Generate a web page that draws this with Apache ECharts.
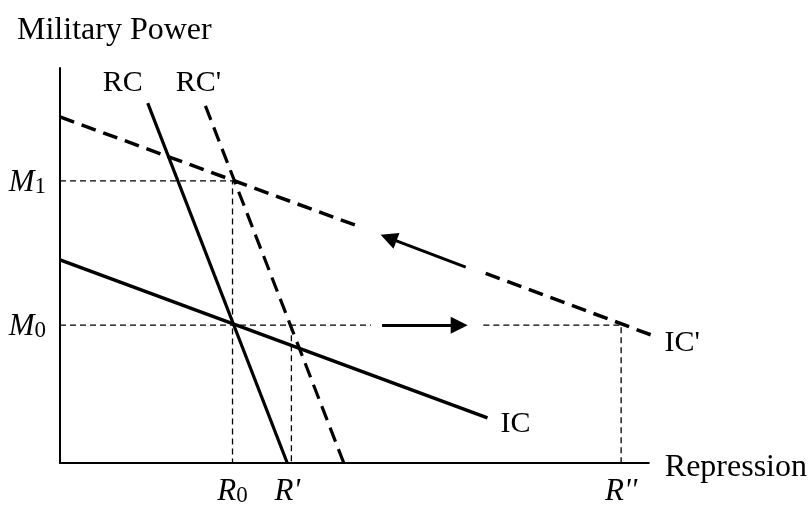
<!DOCTYPE html>
<html><head><meta charset="utf-8">
<script src="https://cdn.jsdelivr.net/npm/echarts@6/dist/echarts.min.js"></script>
<style>html,body{margin:0;padding:0;background:#fff}#c{width:810px;height:507px}</style>
</head><body><div id="c"></div>
<script>
// Values (x: repression 0-100, y: military power 0-100)
const R0 = 29.3, R1 = 39.3, R2 = 95.3;
const M0 = 34.9, M1 = 71.4;
const IC  = [[0, 51.4], [72.6, 11.4]];
const ICp = [[0, 87.6], [100.8, 32.2]];
const ICpGap = [[51.1, 59.7], [72.3, 48.0]];   // where the arrow interrupts IC'
const RC  = [[14.9, 91.1], [38.6, 0]];
const RCp = [[24.7, 90.4], [48.2, 0]];
const M0Gap = [52.8, 71.9];                    // where the arrow interrupts the M0 guide
const shiftArrow = [[54.7, M0], [67.8, M0]];
const moveArrow  = [[68.9, 49.6], [55.8, 57.0]];

const FONT = "'Liberation Serif','Times New Roman',serif";
const FS = 30;
const rich = {
  i: {fontFamily: FONT, fontSize: 31, fontStyle: 'italic', color: '#000', lineHeight: 30, verticalAlign: 'bottom'},
  s: {fontFamily: FONT, fontSize: 23, color: '#000', lineHeight: 20, verticalAlign: 'bottom'},
  n: {fontFamily: FONT, fontSize: FS, color: '#000', lineHeight: 30}
};
function tag(p, text, pos, dist, off) {
  return {value: p, symbolSize: 0, label: {show: true, color: '#000', position: pos, distance: dist, offset: off || [0, 0], formatter: text, rich: rich}};
}
function lineSeries(data, width, dash) {
  return {type: 'line', data: data, showSymbol: false, symbol: 'none', clip: false, silent: true, animation: false,
    lineStyle: {color: '#000', width: width, type: dash}};
}
const thin = [6, 4], thick = [15, 8];

const chart = echarts.init(document.getElementById('c'), null, {renderer: 'canvas'});
chart.setOption({
  backgroundColor: '#fff',
  animation: false,
  title: {text: 'Military Power', left: 17, top: 15, padding: 0,
    textStyle: {fontFamily: FONT, fontSize: 32, fontWeight: 'normal', color: '#000'}},
  grid: {left: 60, top: 68, width: 591, height: 395},
  xAxis: {type: 'value', min: 0, max: 100, name: '{a|Repression}', nameLocation: 'end', nameGap: 16,
    nameTextStyle: {verticalAlign: 'middle',
      rich: {a: {fontFamily: FONT, fontSize: 32, color: '#000', lineHeight: 32, padding: [10, 0, 0, 0]}}},
    axisLine: {lineStyle: {color: '#000', width: 2}}, axisTick: {show: false}, axisLabel: {show: false}, splitLine: {show: false}},
  yAxis: {type: 'value', min: 0, max: 100,
    axisLine: {show: true, lineStyle: {color: '#000', width: 2}}, axisTick: {show: false}, axisLabel: {show: false}, splitLine: {show: false}},
  series: [
    lineSeries([[0, M1], [R0, M1], [R0, 0]], 1.3, thin),
    lineSeries([[0, M0], [M0Gap[0], M0]], 1.3, thin),
    lineSeries([[M0Gap[1], M0], [R2, M0], [R2, 0]], 1.3, thin),
    lineSeries([[R1, M0], [R1, 0]], 1.3, thin),
    lineSeries(IC, 3.5, 'solid'),
    lineSeries([ICp[0], ICpGap[0]], 3.5, thick),
    lineSeries([ICpGap[1], ICp[1]], 3.5, thick),
    lineSeries(RC, 3.2, 'solid'),
    lineSeries(RCp, 3.2, thick),
    {type: 'lines', coordinateSystem: 'cartesian2d', silent: true, animation: false,
      symbol: ['none', 'triangle'], symbolSize: 17,
      lineStyle: {color: '#000', width: 3, opacity: 1},
      data: [{coords: shiftArrow}, {coords: moveArrow}]},
    {type: 'scatter', clip: false, silent: true, animation: false, itemStyle: {color: 'transparent', opacity: 1},
      data: [
        tag(IC[1], '{n|IC}', 'right', 13, [0, 6]),
        tag(ICp[1], "{n|IC'}", 'right', 11, [0, 7]),
        tag(RC[0], '{n|RC}', 'top', 5, [-25, 0]),
        tag(RCp[0], "{n|RC'}", 'top', 8, [-7, 0]),
        tag([0, M1], '{i|M}{s|1}', 'left', 14, [0, 2]),
        tag([0, M0], '{i|M}{s|0}', 'left', 14, [0, 2]),
        tag([R0, 0], '{i|R}{s|0}', 'bottom', 14),
        tag([R1, 0], "{i|R'}", 'bottom', 14, [-4, 0]),
        tag([R2, 0], "{i|R''}", 'bottom', 14)
      ]}
  ]
});
</script></body></html>
